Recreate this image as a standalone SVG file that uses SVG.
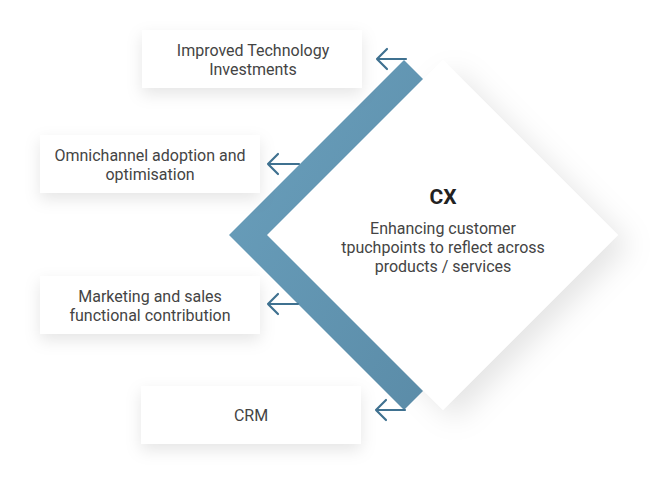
<svg xmlns="http://www.w3.org/2000/svg" width="661" height="495" viewBox="0 0 661 495">
<style>
.box{fill:#fff;filter:url(#sh)}
.t{font-family:Roboto,"Liberation Sans",sans-serif;font-size:16px;fill:#444;text-anchor:middle}
.arr{fill:none;stroke:#3f7190;stroke-width:2.2;stroke-linecap:round;stroke-linejoin:round}
</style>
<defs>
<filter id="sh" x="-30%" y="-50%" width="160%" height="220%">
<feDropShadow dx="0" dy="6" stdDeviation="8" flood-color="#000" flood-opacity="0.10"/>
</filter>
<filter id="dsh" x="-30%" y="-30%" width="160%" height="160%">
<feDropShadow dx="12" dy="10" stdDeviation="14" flood-color="#000" flood-opacity="0.10"/>
</filter>
<linearGradient id="bg" x1="0" y1="0" x2="1" y2="1">
<stop offset="0" stop-color="#6aa0bd"/>
<stop offset="1" stop-color="#5b8ca8"/>
</linearGradient>
</defs>
<rect width="661" height="495" fill="#fff"/>
<g id="cx">
<polygon points="443,60 618,235 443,410 267,235" fill="#fff" filter="url(#dsh)"/>
<text x="443" y="204" class="t" style="font-size:21px;font-weight:bold;fill:#222">CX</text>
<text x="443" y="234" class="t">Enhancing customer</text>
<text x="443" y="253" class="t">tpuchpoints to reflect across</text>
<text x="443" y="272" class="t">products / services</text>
</g>
<g id="band">
<polygon points="404,60 423,79 267,235 423,391 404,410 229,235" fill="url(#bg)"/>
</g>
<g id="n1">
<rect class="box" x="142" y="30" width="220" height="58"/>
<text x="253" y="56" class="t">Improved Technology</text>
<text x="253" y="75" class="t">Investments</text>
</g>
<g id="n2">
<rect class="box" x="40" y="135" width="220" height="58"/>
<text x="150" y="161" class="t">Omnichannel adoption and</text>
<text x="150" y="180" class="t">optimisation</text>
</g>
<g id="n3">
<rect class="box" x="40" y="276" width="220" height="58"/>
<text x="150" y="302" class="t">Marketing and sales</text>
<text x="150" y="321" class="t">functional contribution</text>
</g>
<g id="n4">
<rect class="box" x="141" y="386" width="220" height="58"/>
<text x="251" y="421" class="t">CRM</text>
</g>
<g id="connectors">
<path class="arr" d="M406,59 H377 M387,49 L377,59 L387,69"/>
<path class="arr" d="M299,164 H268 M278,154 L268,164 L278,174"/>
<path class="arr" d="M298,304 H268 M278,294 L268,304 L278,314"/>
<path class="arr" d="M405,410 H376 M386,400 L376,410 L386,420"/>
</g>
</svg>
